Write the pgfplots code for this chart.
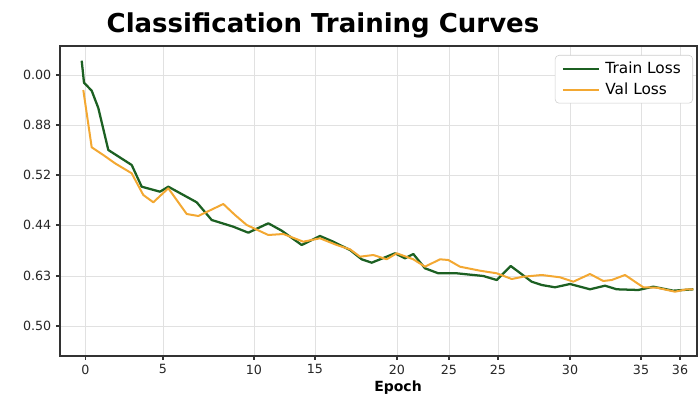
\documentclass[border=0pt]{standalone}
\usepackage{fontspec}
\setmainfont{DejaVu Sans}
\usepackage{pgfplots}
\pgfplotsset{compat=1.18}
\definecolor{trainc}{RGB}{28,96,34}
\definecolor{valc}{RGB}{243,168,50}
\definecolor{gridc}{RGB}{225,225,225}
\begin{document}
\begin{tikzpicture}
\useasboundingbox (-45pt,-31.5pt) rectangle (480pt,267pt);
\begin{axis}[
  at={(0,0)}, anchor=south west,
  scale only axis, width=477.75pt, height=232.5pt,
  xmin=60, xmax=697, ymin=46, ymax=356, y dir=reverse,
  clip=false,
  axis line style={draw=black!80, line width=1.1pt},
  grid=major, major grid style={draw=gridc, line width=0.6pt},
  tick pos=left, tick align=outside, major tick length=3pt,
  tick style={draw=black!80, line width=0.8pt},
  xtick={85.5,163,254,315,397,449,498,570,641,680},
  xticklabels={0,5,10,15,20,25,25,30,35,36},
  ytick={75,125,175,225,276,326},
  yticklabels={0.00,0.88,0.52,0.44,0.63,0.50},
  /pgf/number format/assume math mode=true,
  ticklabel style={font=\fontsize{9.5}{11}\selectfont, text=black!85},
  xlabel={\textbf{Epoch}},
  xlabel style={at={(axis description cs:0.5306,-0.1032)}, anchor=center, font=\fontsize{10.5}{12}\selectfont},
  legend style={at={(axis cs:693,55)}, anchor=north east, draw=black!20, rounded corners=3pt,
    font=\fontsize{11.5}{14}\selectfont, inner xsep=5pt, inner ysep=3pt, row sep=1.5pt,
    nodes={inner xsep=4pt}},
  legend cell align=left,
  legend image code/.code={\draw[#1] (0cm,0cm) -- (0.95cm,0cm);},
]
\addplot[trainc, line width=1.7pt, line join=round] coordinates {
(81.7,60.7)(84,82.7)(91.7,90.7)(98.3,108)(108.3,150)(131.7,165)(141.7,186.7)(160,191.7)(168.3,186.7)(196.7,202.3)(211.7,220)(233.3,226.7)(248.3,232.7)(268.3,223.3)(281.7,230.7)(301.7,245)(320,236)(333.3,241.7)(350,250)(361.7,259.3)(371.7,262.7)(395,253.3)(405,258.3)(413.3,254)(425,268.3)(438.3,273.3)(456.7,273.3)(483.3,276)(496.7,280)(510.7,266)(531.7,281.7)(541.7,285)(555,287.3)(570,284)(590,289.3)(605,285.7)(616.7,289.3)(638.3,290)(653.3,286.7)(673.3,290.7)(693.3,289.3)
};
\addlegendentry{Train Loss}
\addplot[valc, line width=1.5pt, line join=round] coordinates {
(83.3,90)(91.7,147.3)(103.3,155)(115,163.3)(131.7,173.3)(143.3,195)(153.3,202.3)(168.3,188.3)(186.7,214)(198.3,216)(223.3,204)(235,215)(246.7,225)(268.3,235)(283.3,234)(303.3,241.7)(320,238.3)(336.7,245)(350,249.3)(360,256.7)(373.3,255)(386.7,259.3)(396.7,253.3)(413.3,259.3)(425,266.7)(440,259.3)(448.3,260)(460,266.7)(480,270.7)(496.7,273.3)(511.7,279)(523.3,276.7)(541.7,275)(560,277.3)(573.3,281.7)(590,274)(603.3,281)(611.7,280)(625,275)(643.3,287.3)(656.7,287.7)(675,291.7)(686.7,289.3)(693.3,289.3)
};
\addlegendentry{Val Loss}
\node[anchor=base, font=\fontsize{19.5}{22}\selectfont\bfseries] at (axis cs:323,33) {Classification Training Curves};
\end{axis}
\end{tikzpicture}
\end{document}
